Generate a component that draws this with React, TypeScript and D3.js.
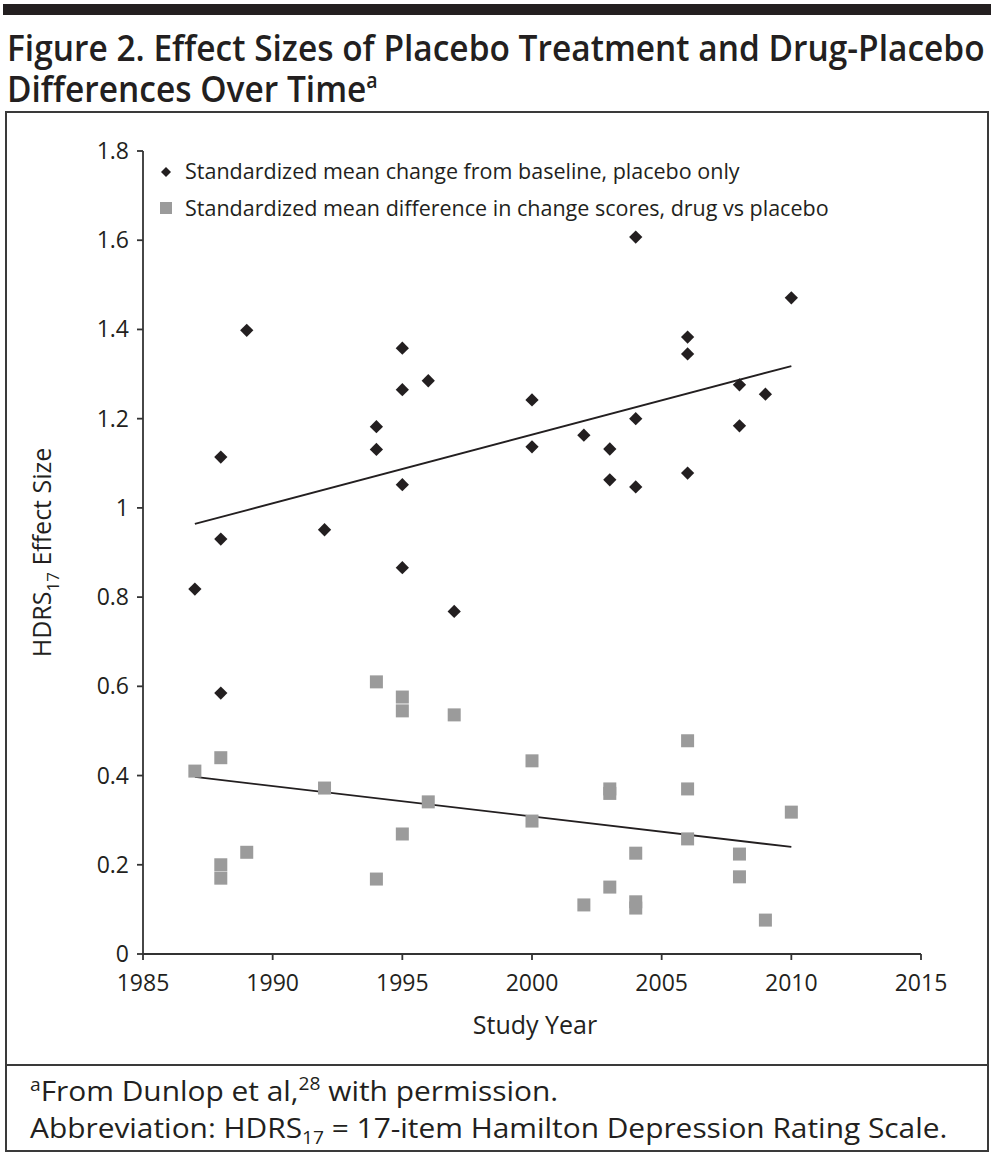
import React, { useLayoutEffect, useRef, useState } from "react";
import * as d3 from "d3";

// ---- Data ----
const placeboYears = [1987, 1988, 1988, 1988, 1989, 1992, 1994, 1994, 1995, 1995, 1995, 1995, 1996, 1997, 2000, 2000, 2002, 2003, 2003, 2004, 2004, 2004, 2006, 2006, 2006, 2008, 2008, 2009, 2010];
const placeboValues = [0.818, 1.114, 0.930, 0.585, 1.398, 0.951, 1.182, 1.131, 1.358, 1.265, 1.052, 0.866, 1.285, 0.768, 1.242, 1.137, 1.163, 1.132, 1.063, 1.607, 1.200, 1.047, 1.383, 1.345, 1.078, 1.276, 1.184, 1.255, 1.471];

const drugYears = [1987, 1988, 1988, 1988, 1989, 1992, 1994, 1994, 1995, 1995, 1995, 1996, 1997, 2000, 2000, 2002, 2003, 2003, 2003, 2004, 2004, 2004, 2006, 2006, 2006, 2008, 2008, 2009, 2010];
const drugValues = [0.410, 0.440, 0.200, 0.170, 0.228, 0.372, 0.610, 0.168, 0.576, 0.545, 0.269, 0.341, 0.536, 0.433, 0.298, 0.110, 0.370, 0.360, 0.150, 0.226, 0.117, 0.103, 0.478, 0.370, 0.258, 0.224, 0.173, 0.076, 0.318];

const trendYears = [1987, 2010];
const placeboTrend = [0.964, 1.318];
const drugTrend = [0.397, 0.240];

const xTicks = [1985, 1990, 1995, 2000, 2005, 2010, 2015];
const yTicks = [0, 0.2, 0.4, 0.6, 0.8, 1, 1.2, 1.4, 1.6, 1.8];

const legendLabels = [
  "Standardized mean change from baseline, placebo only",
  "Standardized mean difference in change scores, drug vs placebo",
];

const FONT = "'Open Sans', 'DejaVu Sans', sans-serif";
const INK = "#231f20";
const GRAY = "#9b9b9b";

export default function App() {
  const W = 994;
  const H = 1158;
  const x = d3.scaleLinear().domain([1985, 2015]).range([143, 921]);
  const y = d3.scaleLinear().domain([0, 1.8]).range([954, 151]);

  const titleRef = useRef<SVGTSpanElement>(null);
  const footRef = useRef<SVGTextElement>(null);
  const [titleScale, setTitleScale] = useState(1);
  const [footScale, setFootScale] = useState(1);

  useLayoutEffect(() => {
    if (titleRef.current) {
      const w = titleRef.current.getComputedTextLength();
      if (w > 0) setTitleScale(978 / w);
    }
    if (footRef.current) {
      const w = footRef.current.getBBox().width;
      if (w > 0) setFootScale(918 / w);
    }
  }, []);

  const diamond = d3.symbol(d3.symbolSquare, 88)()!;
  const line = d3
    .line<number>()
    .x((_, i) => x(trendYears[i]))
    .y((d) => y(d));

  const fmt = (v: number) => (v === 0 ? "0" : v === 1 ? "1" : d3.format(".1f")(v));

  return (
    <svg width={W} height={H} style={{ display: "block", position: "absolute", left: 0, top: 0 }}>
      <rect x={0} y={0} width={W} height={H} fill="#fff" />
      {/* top bar */}
      <rect x={3} y={4} width={988} height={11} fill={INK} />
      {/* title (one text element, two lines) */}
      <g transform={`translate(7,61) scale(${titleScale},1)`}>
        <text x={0} y={0} fontFamily={FONT} fontWeight={600} fontSize={36} fill={INK}>
          <tspan ref={titleRef} x={0} y={0}>
            Figure 2. Effect Sizes of Placebo Treatment and Drug-Placebo
          </tspan>
          <tspan x={0} y={41}>Differences Over Time</tspan>
          <tspan fontSize={21} dy={-14}>a</tspan>
        </text>
      </g>
      {/* frame */}
      <rect x={6} y={112} width={982} height={1039} fill="none" stroke="#3a3a3a" strokeWidth={2} />
      <line x1={6} x2={988} y1={1065} y2={1065} stroke="#3a3a3a" strokeWidth={2} />

      {/* axes */}
      <g>
        <line x1={x(1985)} x2={x(1985)} y1={y(1.8)} y2={y(0)} stroke="#333" strokeWidth={1.8} />
        {yTicks.map((t) => (
          <g key={"y" + t}>
            <line x1={x(1985) - 6} x2={x(1985)} y1={y(t)} y2={y(t)} stroke="#333" strokeWidth={1.8} />
            <text
              x={x(1985) - 14}
              y={y(t)}
              dy="0.35em"
              textAnchor="end"
              fontFamily={FONT}
              fontSize={23}
              fill={INK}
            >
              {fmt(t)}
            </text>
          </g>
        ))}
        <line x1={x(1985)} x2={x(2015)} y1={y(0)} y2={y(0)} stroke="#333" strokeWidth={1.8} />
        {xTicks.map((t) => (
          <g key={"x" + t}>
            <line x1={x(t)} x2={x(t)} y1={y(0)} y2={y(0) + 6} stroke="#333" strokeWidth={1.8} />
            <text x={x(t)} y={991} textAnchor="middle" fontFamily={FONT} fontSize={23} fill={INK}>
              {t}
            </text>
          </g>
        ))}
        <text x={535} y={1034} textAnchor="middle" fontFamily={FONT} fontSize={25} fill={INK}>
          Study Year
        </text>
        <text
          transform={`translate(51,${(y(0) + y(1.8)) / 2}) rotate(-90)`}
          textAnchor="middle"
          fontFamily={FONT}
          fontSize={25}
          fill={INK}
        >
          HDRS
          <tspan fontSize={17} dy={8}>17</tspan>
          <tspan dy={-8}> Effect Size</tspan>
        </text>
      </g>

      {/* trend lines */}
      <path d={line(placeboTrend)!} fill="none" stroke={INK} strokeWidth={1.8} />
      <path d={line(drugTrend)!} fill="none" stroke={INK} strokeWidth={1.8} />

      {/* drug squares */}
      {drugValues.map((v, i) => (
        <rect key={"d" + i} x={x(drugYears[i]) - 6.5} y={y(v) - 6.5} width={13} height={13} fill={GRAY} />
      ))}
      {/* placebo diamonds */}
      {placeboValues.map((v, i) => (
        <path
          key={"p" + i}
          d={diamond}
          transform={`translate(${x(placeboYears[i])},${y(v)}) rotate(45)`}
          fill={INK}
        />
      ))}

      {/* legend */}
      <path d={d3.symbol(d3.symbolSquare, 50)()!} transform="translate(166,172) rotate(45)" fill={INK} />
      <text x={185} y={179} fontFamily={FONT} fontSize={21.5} fill={INK}>
        {legendLabels[0]}
      </text>
      <rect x={160} y={202} width={12} height={12} fill={GRAY} />
      <text x={185} y={216} fontFamily={FONT} fontSize={21.5} fill={INK}>
        {legendLabels[1]}
      </text>

      {/* footnote */}
      <g transform={`translate(30,1101) scale(${footScale},1)`}>
        <text x={0} y={0} fontFamily={FONT} fontSize={28} fill={INK}>
          <tspan fontSize={18} dy={-10}>a</tspan>
          <tspan dy={10}>From Dunlop et al,</tspan>
          <tspan fontSize={18} dy={-11}>28</tspan>
          <tspan dy={11}> with permission.</tspan>
        </text>
      </g>
      <g transform={`translate(30,1138) scale(${footScale},1)`}>
        <text ref={footRef} x={0} y={0} fontFamily={FONT} fontSize={28} fill={INK}>
          Abbreviation: HDRS
          <tspan fontSize={18} dy={6}>17</tspan>
          <tspan dy={-6}> = 17-item Hamilton Depression Rating Scale.</tspan>
        </text>
      </g>
    </svg>
  );
}
